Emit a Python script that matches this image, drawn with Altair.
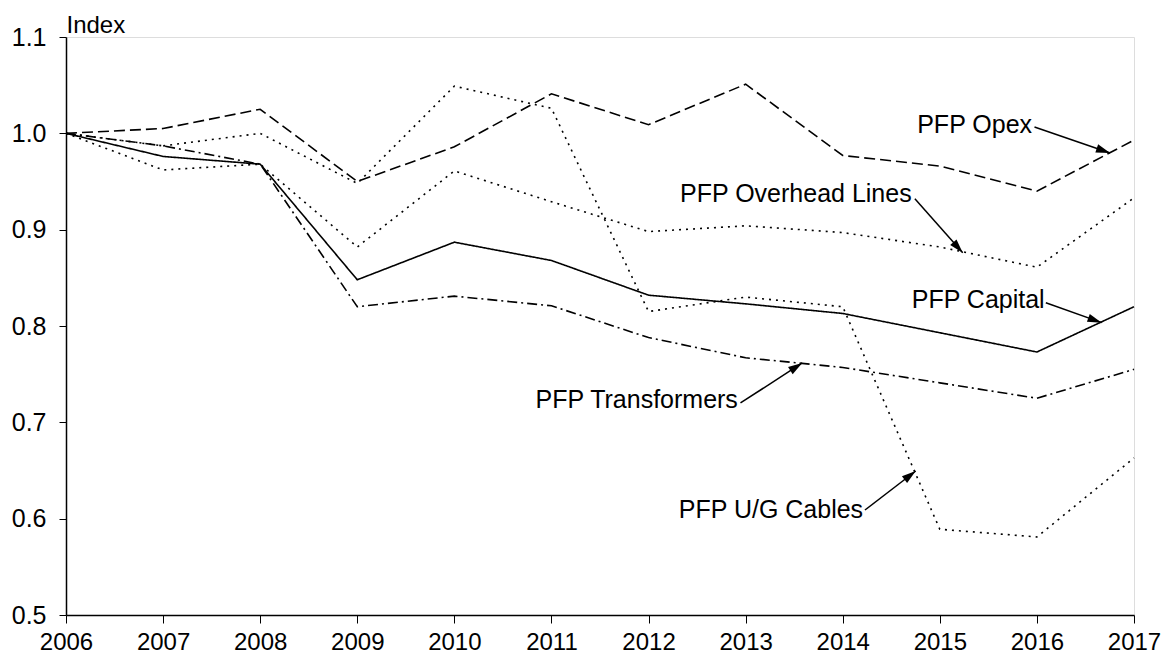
import math
import altair as alt
import pandas as pd

years = list(range(2006, 2018))
opex = [1.000, 1.005, 1.025, 0.950, 0.986, 1.041, 1.009, 1.051, 0.977, 0.966, 0.940, 0.993]
overhead = [1.000, 0.962, 0.968, 0.882, 0.961, 0.929, 0.898, 0.904, 0.897, 0.882, 0.861, 0.933]
capital = [1.000, 0.976, 0.968, 0.848, 0.887, 0.868, 0.832, 0.823, 0.813, 0.793, 0.773, 0.820]
transformers = [1.000, 0.987, 0.968, 0.820, 0.831, 0.821, 0.788, 0.767, 0.757, 0.741, 0.725, 0.755]
ug_cables = [1.000, 0.987, 1.000, 0.948, 1.049, 1.026, 0.815, 0.830, 0.820, 0.589, 0.581, 0.663]

series_names = ["PFP Opex", "PFP Overhead Lines", "PFP Capital", "PFP Transformers", "PFP U/G Cables"]
series_values = [opex, overhead, capital, transformers, ug_cables]
series_dash = [[11, 5], [2, 5], [1, 0], [10, 4, 2, 4], [2, 5]]

# annotation label anchors (right end of text) and arrows (start -> tip), in data units
label_x = [2015.95, 2014.71, 2016.08, 2012.92, 2014.21]
label_y = [1.0086, 0.937, 0.827, 0.723, 0.609]
arrow_x1 = [2015.975, 2014.743, 2016.092, 2012.947, 2014.229]
arrow_y1 = [1.0066, 0.9320, 0.8242, 0.7201, 0.6090]
arrow_x2 = [2016.754, 2015.236, 2016.667, 2013.583, 2014.752]
arrow_y2 = [0.9796, 0.8760, 0.8035, 0.7616, 0.6495]

W, H = 1068, 578
X_DOM = [2006, 2017]
Y_DOM = [0.5, 1.1]
FONT = "Liberation Sans"

rows = []
for name, vals in zip(series_names, series_values):
    for yr, v in zip(years, vals):
        rows.append({"series": name, "year": yr, "value": v})
df = pd.DataFrame(rows)

px_per_x = W / (X_DOM[1] - X_DOM[0])
px_per_y = H / (Y_DOM[1] - Y_DOM[0])
ann = []
for i, name in enumerate(series_names):
    dx = (arrow_x2[i] - arrow_x1[i]) * px_per_x
    dy = -(arrow_y2[i] - arrow_y1[i]) * px_per_y
    ang = math.degrees(math.atan2(dx, -dy)) % 360
    ann.append({"text": name, "lx": label_x[i], "ly": label_y[i],
                "x1": arrow_x1[i], "y1": arrow_y1[i], "x2": arrow_x2[i], "y2": arrow_y2[i],
                "angle": ang})
adf = pd.DataFrame(ann)

xs = alt.Scale(domain=X_DOM, nice=False, zero=False)
ys = alt.Scale(domain=Y_DOM, nice=False, zero=False)

x_axis = alt.Axis(values=years, format="d", tickSize=8, labelFontSize=24, labelPadding=26,
                  labelBaseline="alphabetic",
                  labelFont=FONT, labelColor="black", domainColor="black", tickColor="black",
                  domainWidth=1.5, tickWidth=1, grid=False, title=None, labelOverlap=False,
                  labelFlush=False)
y_axis = alt.Axis(values=[0.5, 0.6, 0.7, 0.8, 0.9, 1.0, 1.1], format=".1f", tickSize=7,
                  labelFontSize=25, labelPadding=13, labelFont=FONT, labelColor="black",
                  domainColor="black", tickColor="black", domainWidth=1.5, tickWidth=1,
                  grid=False, title="Index", titleAngle=0, titleAlign="left",
                  titleBaseline="alphabetic", titleX=0, titleY=-5, titleFontSize=24,
                  titleFont=FONT, titleFontWeight="normal", titleColor="black")

lines = alt.Chart(df).mark_line(color="black", strokeWidth=1.6).encode(
    x=alt.X("year:Q", scale=xs, axis=x_axis),
    y=alt.Y("value:Q", scale=ys, axis=y_axis),
    strokeDash=alt.StrokeDash("series:N", scale=alt.Scale(domain=series_names, range=series_dash),
                              legend=None),
    detail="series:N",
)

labels = alt.Chart(adf).mark_text(align="right", baseline="middle", fontSize=25, font=FONT,
                                  color="black").encode(
    x=alt.X("lx:Q", scale=xs), y=alt.Y("ly:Q", scale=ys), text="text:N")

arrows = alt.Chart(adf).mark_rule(color="black", strokeWidth=1.5).encode(
    x=alt.X("x1:Q", scale=xs), y=alt.Y("y1:Q", scale=ys),
    x2="x2:Q", y2="y2:Q")

heads = alt.Chart(adf).mark_point(shape="M0,0L-0.6,2L0.6,2Z", filled=True, color="black",
                                  opacity=1, size=200, strokeWidth=0).encode(
    x=alt.X("x2:Q", scale=xs), y=alt.Y("y2:Q", scale=ys),
    angle=alt.Angle("angle:Q", scale=None))

chart = alt.layer(lines, arrows, heads, labels).properties(
    width=W, height=H,
    padding={"left": 58, "top": 29, "right": 28, "bottom": 39},
    autosize=alt.AutoSizeParams(type="none"),
).configure_view(stroke="black", strokeWidth=1.5).configure(background="white")

chart.save("out.html", embed_options={"renderer": "svg", "actions": False})
